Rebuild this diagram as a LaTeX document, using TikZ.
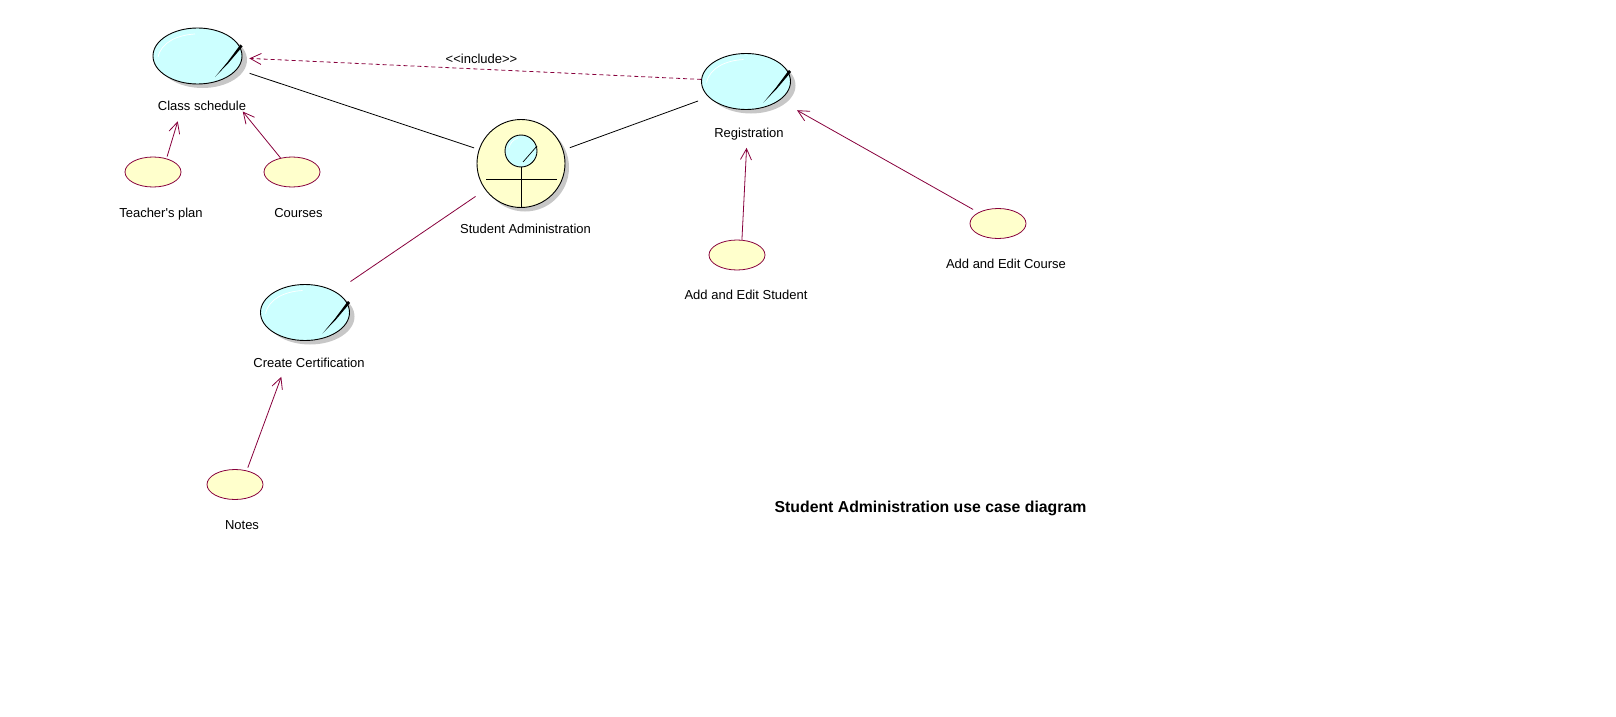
\documentclass[tikz,border=0pt]{standalone}
\usepackage{fontspec}
\setmainfont{Liberation Sans}
\usetikzlibrary{arrows.meta,shadows,shapes.geometric}
\definecolor{rosered}{RGB}{135,0,60}
\definecolor{rosecyan}{RGB}{204,255,255}
\definecolor{roseyellow}{RGB}{255,255,204}
\tikzset{
  usecase/.style={ellipse, draw, fill=rosecyan, inner sep=0pt, minimum width=89pt, minimum height=56pt,
    line width=0.9pt, drop shadow={shadow xshift=5pt, shadow yshift=-4pt, fill=black!22, opacity=1}},
  extcase/.style={ellipse, draw=rosered, fill=roseyellow, inner sep=0pt, minimum width=56pt, minimum height=30pt, line width=0.8pt},
  actor/.style={circle, draw, fill=roseyellow, inner sep=0pt, minimum size=88pt,
    line width=0.9pt, drop shadow={shadow xshift=4pt, shadow yshift=-4pt, fill=black!22, opacity=1}},
  head/.style={circle, draw, fill=rosecyan, inner sep=0pt, minimum size=32pt, line width=0.9pt},
  label/.style={font=\fontsize{13}{16}\selectfont, inner sep=0pt},
  assoc/.style={line width=0.8pt},
  redassoc/.style={line width=0.8pt, draw=rosered},
  uses/.style={line width=0.8pt, draw=rosered, -{Straight Barb[length=11pt,width=11pt]}},
  includes/.style={line width=0.8pt, draw=rosered, dash pattern=on 4pt off 3pt, -{Straight Barb[length=11pt,width=11pt]}}
}
\begin{document}
\begin{tikzpicture}[x=1pt, y=-1pt]
  \useasboundingbox (0,0) rectangle (1616,717);
  % use cases
  \node[usecase] (cs) at (197.5,56){};
  \node[usecase] (reg) at (746,81.5){};
  \node[usecase] (cert) at (305,312.5){};
  \foreach \n in {cs,reg,cert} {
    \begin{scope}[shift={(\n.center)}]
      \fill (43,-11.5) -- (45,-9.5) -- (31,7) -- (17.5,21) -- (30,6) -- cycle;
      \draw[white, line width=0.7pt] (-39.5,1) .. controls (-36,-14) and (-20,-21) .. (-2.5,-22);
    \end{scope}
  }
  % actor
  \node[actor] (sa) at (521,163.5){};
  \node[head] (sah) at (521,151){};
  \coordinate (saf) at (521,207);
  \coordinate (sal) at (486,179);
  \coordinate (sar) at (557,179);
  \draw[line width=0.9pt] (sah) -- (saf);
  \draw[line width=0.9pt] (sal) -- (sar);
  \draw[line width=0.7pt] (537,146) -- (523,162);
  \draw[white, line width=0.6pt] (509,148) .. controls (510,143) and (513,140) .. (518,138);
  % external cases
  \node[extcase] (tp) at (153,172){};
  \node[extcase] (crs) at (292,172){};
  \node[extcase] (aes) at (737,255){};
  \node[extcase] (aec) at (998,223.5){};
  \node[extcase] (nts) at (235,484.5){};
  % labels
  \node[label] (csl) at (202,106){Class schedule};
  \node[label] (regl) at (749,134){Registration};
  \node[label] (certl) at (309,363){Create Certification};
  \node[label] (sal2) at (525.5,229){Student Administration};
  \node[label] (tpl) at (161,214){Teacher\textquotesingle s plan};
  \node[label] (crsl) at (298.5,213){Courses};
  \node[label] (aesl) at (746,295){Add and Edit Student};
  \node[label] (aecl) at (1006,264){Add and Edit Course};
  \node[label] (ntsl) at (242,525){Notes};
  \node[label] (incl) at (481.5,58.5){<{}<include>{}>};
  \node[font=\bfseries\fontsize{15.8}{18}\selectfont, inner sep=0pt] (title) at (930.5,508.5){Student Administration use case diagram};
  % connectors
  \draw[assoc, shorten <=13pt, shorten >=5pt] (cs) -- (sa);
  \draw[assoc, shorten <=52pt, shorten >=51pt] ([yshift=-2pt]sa.center) -- ([yshift=-2pt]reg.center);
  \draw[redassoc, shorten <=55pt, shorten >=18pt] ([yshift=-2pt]sa.center) -- (cert);
  \draw[includes, shorten >=7pt] (reg) -- (cs);
  \draw[uses, shorten <=2pt, shorten >=39pt] (tp.45) -- (cs);
  \draw[uses, shorten >=39pt] (crs) -- (cs);
  \draw[uses, shorten >=38pt] (aes.72) -- (reg.-85);
  \draw[uses, shorten <=6pt, shorten >=20pt] (aec) -- (reg);
  \draw[uses, shorten <=3pt, shorten >=39pt] (nts.50) -- (cert);
\end{tikzpicture}
\end{document}
